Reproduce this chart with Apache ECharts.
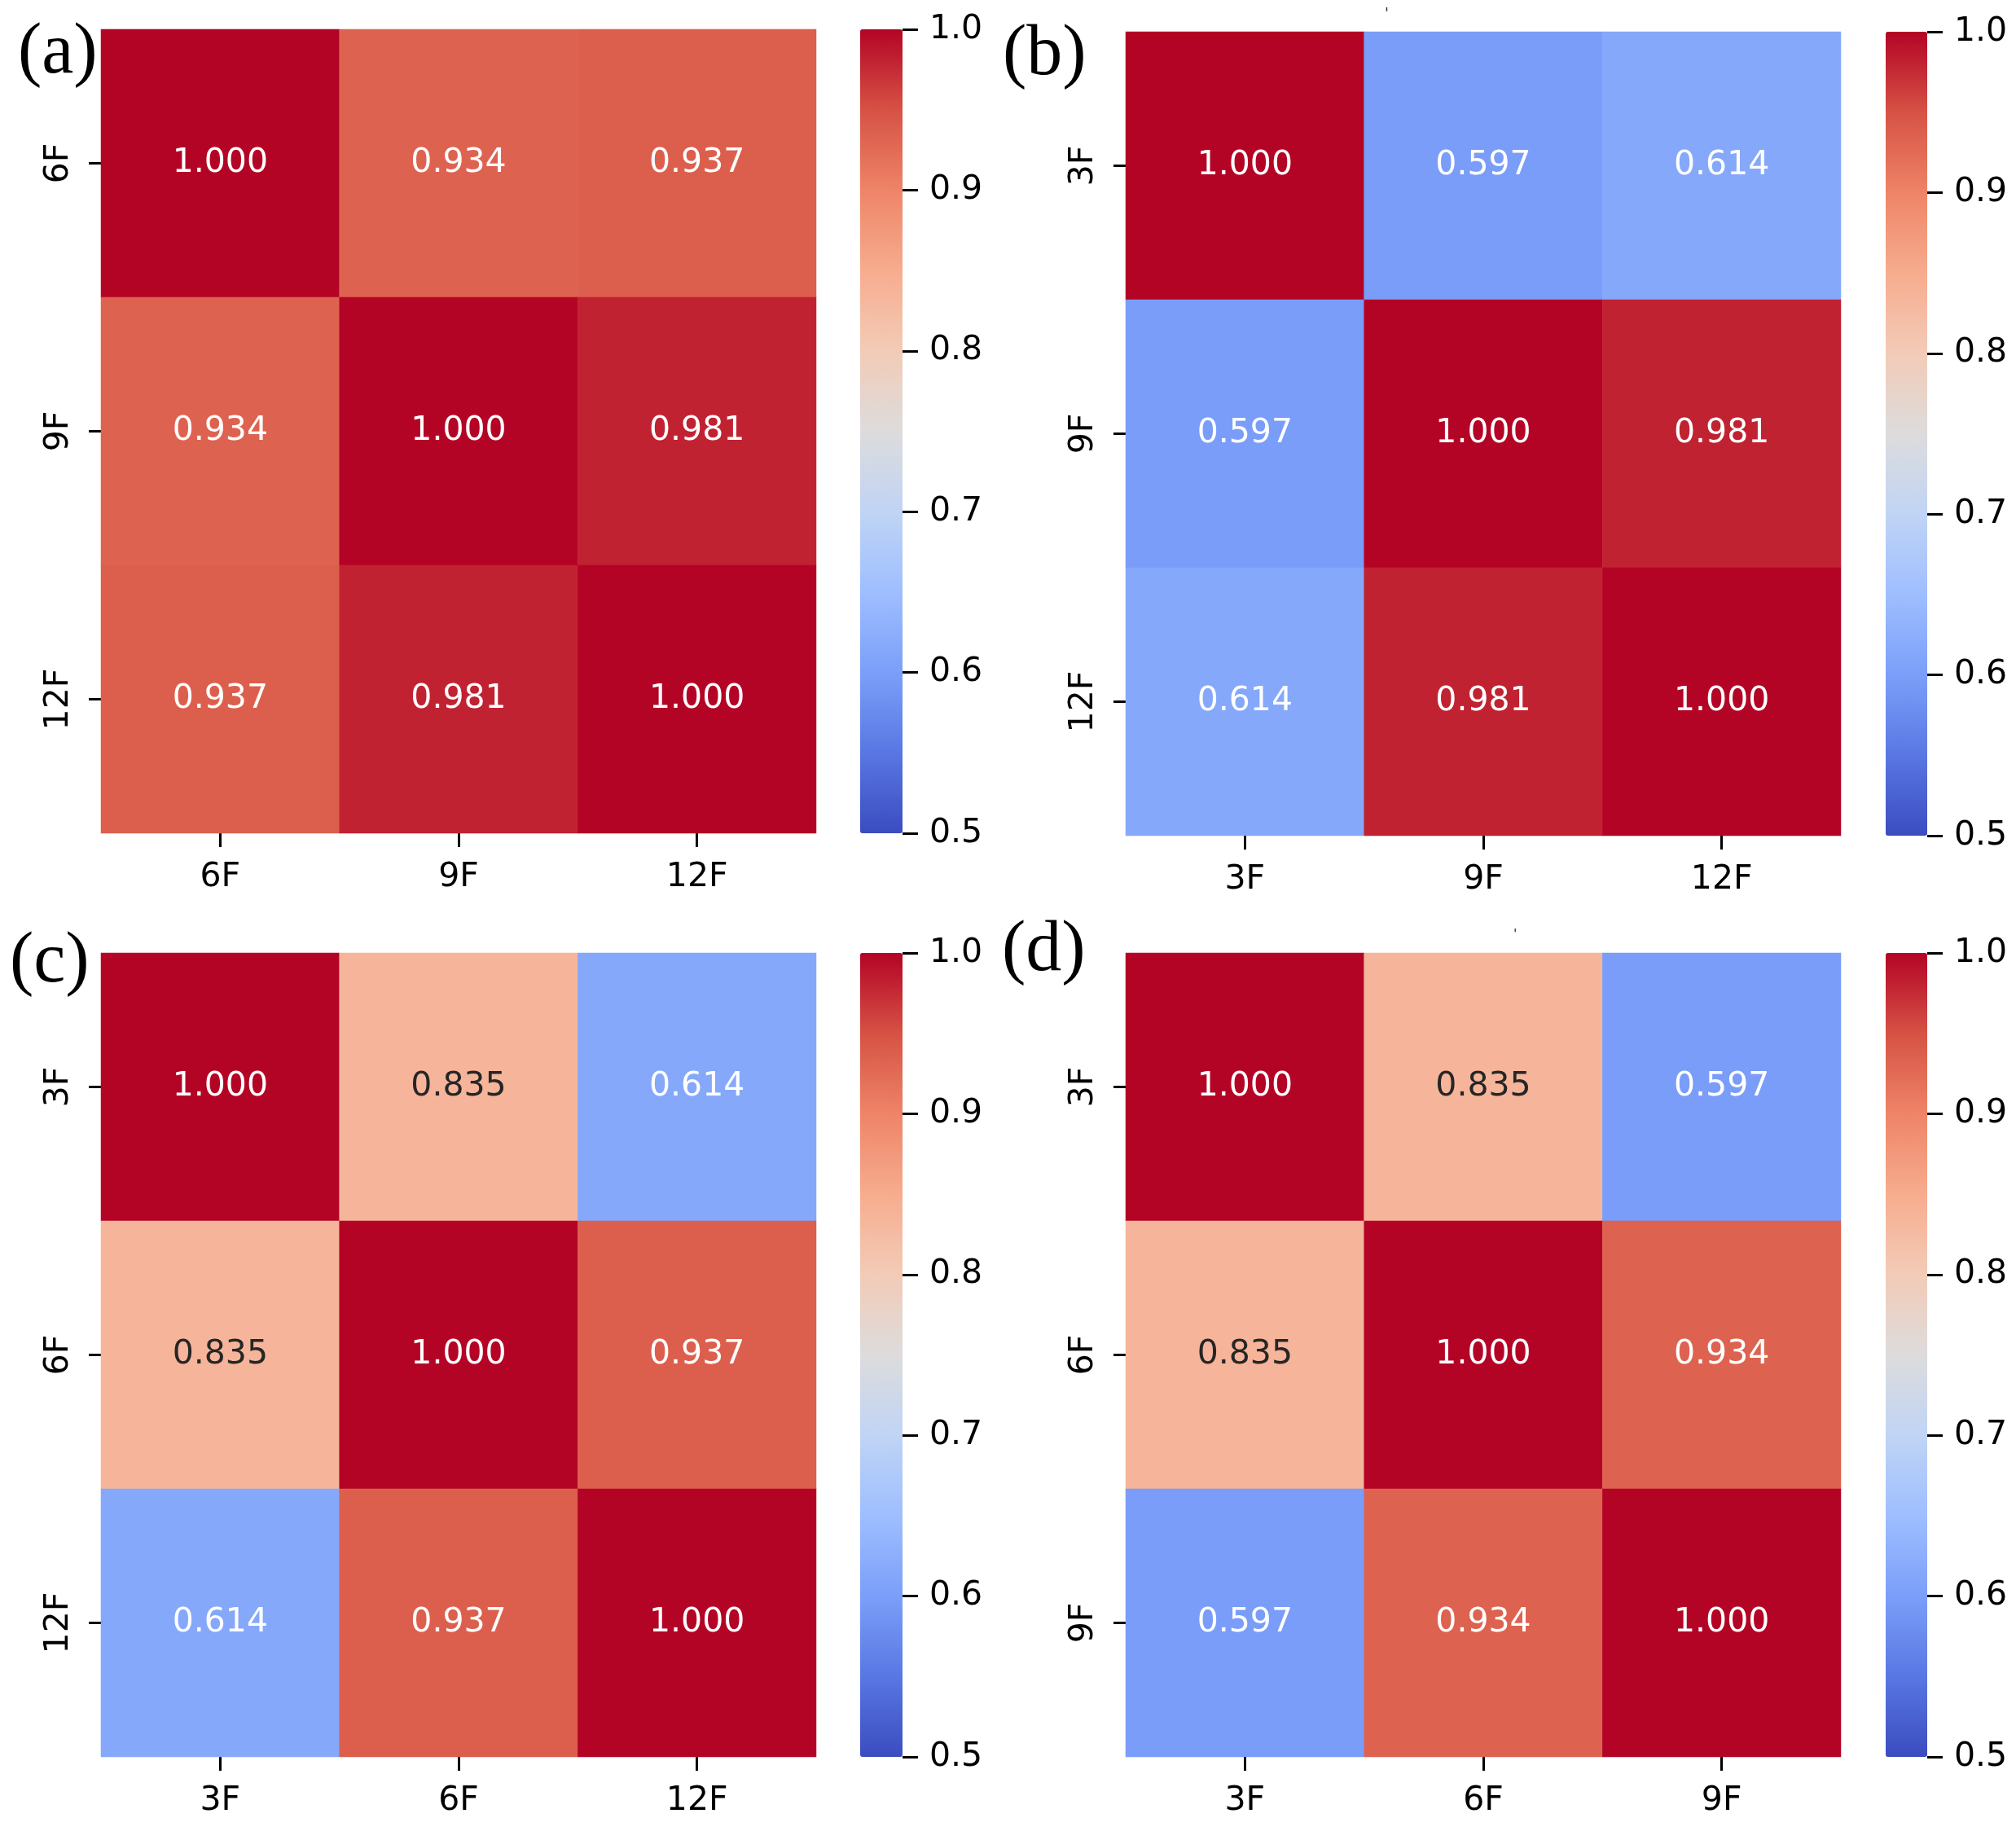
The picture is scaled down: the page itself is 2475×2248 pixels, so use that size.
<!DOCTYPE html>
<html>
<head>
<meta charset="utf-8">
<script src="https://cdn.jsdelivr.net/npm/echarts@6/dist/echarts.min.js"></script>
<style>
html,body{margin:0;padding:0;background:#fff;}
#chart{width:2475px;height:2248px;}
</style>
</head>
<body>
<div id="chart"></div>
<script>
// ---- data ----
const panelLetters = ['(a)', '(b)', '(c)', '(d)'];
const catsA = ['6F', '9F', '12F'];
const catsB = ['3F', '9F', '12F'];
const catsC = ['3F', '6F', '12F'];
const catsD = ['3F', '6F', '9F'];
const valsA = [[1.000, 0.934, 0.937], [0.934, 1.000, 0.981], [0.937, 0.981, 1.000]];
const valsB = [[1.000, 0.597, 0.614], [0.597, 1.000, 0.981], [0.614, 0.981, 1.000]];
const valsC = [[1.000, 0.835, 0.614], [0.835, 1.000, 0.937], [0.614, 0.937, 1.000]];
const valsD = [[1.000, 0.835, 0.597], [0.835, 1.000, 0.934], [0.597, 0.934, 1.000]];
const colorbarTicks = [0.5, 0.6, 0.7, 0.8, 0.9, 1.0];
const vMin = 0.5, vMax = 1.0;

// ---- styling ----
const COOLWARM = ['#3b4cc0','#5977e3','#7b9ff9','#9ebeff','#c0d4f5','#dddcdc','#f2cbb7','#f7ac8e','#ee8468','#d65244','#b40426'];
const FONT = 'DejaVu Sans';
const FS = 41;
const layout = [
  {left: 124, top: 36, w: 878, h: 987, cb: 1056, cbw: 52},
  {left: 1382, top: 39, w: 878, h: 987, cb: 2315, cbw: 51},
  {left: 124, top: 1170, w: 878, h: 987, cb: 1056, cbw: 52},
  {left: 1382, top: 1170, w: 878, h: 987, cb: 2315, cbw: 51}
];
const letterPos = [
  {x: 22, y: 66},
  {x: 1231, y: 68},
  {x: 12, y: 1182},
  {x: 1230, y: 1168}
];

function hexToRgb(h){return [parseInt(h.slice(1,3),16),parseInt(h.slice(3,5),16),parseInt(h.slice(5,7),16)];}
function colorAt(v){
  let t = Math.max(0, Math.min(1, (v - vMin) / (vMax - vMin))) * (COOLWARM.length - 1);
  let i = Math.min(Math.floor(t), COOLWARM.length - 2), f = t - i;
  const a = hexToRgb(COOLWARM[i]), b = hexToRgb(COOLWARM[i+1]);
  return a.map((c, k) => c + (b[k] - c) * f);
}
function luminance(rgb){
  const l = rgb.map(c => { c = c / 255; return c <= 0.03928 ? c / 12.92 : Math.pow((c + 0.055) / 1.055, 2.4); });
  return 0.2126 * l[0] + 0.7152 * l[1] + 0.0722 * l[2];
}

const panels = [
  {cats: catsA, vals: valsA},
  {cats: catsB, vals: valsB},
  {cats: catsC, vals: valsC},
  {cats: catsD, vals: valsD}
];

const grid = [], xAxis = [], yAxis = [], series = [], visualMap = [], graphic = [];
panels.forEach((p, i) => {
  const L = layout[i];
  grid.push({left: L.left, top: L.top, width: L.w, height: L.h, containLabel: false});
  xAxis.push({
    type: 'category', gridIndex: i, data: p.cats, position: 'bottom',
    axisLine: {show: false, onZero: false},
    axisTick: {show: true, alignWithLabel: true, length: 17, lineStyle: {color: '#000', width: 3}},
    axisLabel: {fontFamily: FONT, fontSize: FS, color: '#000', margin: 34},
    splitLine: {show: false}, splitArea: {show: false}
  });
  yAxis.push({
    type: 'category', gridIndex: i, data: p.cats, inverse: true,
    axisLine: {show: false, onZero: false},
    axisTick: {show: true, alignWithLabel: true, length: 15, lineStyle: {color: '#000', width: 3}},
    axisLabel: {fontFamily: FONT, fontSize: FS, color: '#000', rotate: 90, margin: 31},
    splitLine: {show: false}, splitArea: {show: false}
  });
  const data = [];
  p.vals.forEach((row, r) => row.forEach((v, c) => {
    const lum = luminance(colorAt(v));
    data.push({value: [c, r, v], label: {color: lum > 0.408 ? '#262626' : '#ffffff'}});
  }));
  series.push({
    type: 'heatmap', xAxisIndex: i, yAxisIndex: i, data: data,
    label: {show: true, fontFamily: FONT, fontSize: FS, padding: [5, 0, 0, 0], formatter: d => d.value[2].toFixed(3)},
    itemStyle: {borderWidth: 0},
    emphasis: {disabled: true}, silent: true
  });
  visualMap.push({
    type: 'continuous', min: vMin, max: vMax, seriesIndex: i, dimension: 2,
    left: L.cb, top: L.top, itemWidth: L.cbw, itemHeight: L.h, padding: 0,
    calculable: false, showLabel: false, text: null,
    inRange: {color: COOLWARM}, hoverLink: false
  });
});
// colorbar tick axes
panels.forEach((p, i) => {
  const L = layout[i];
  grid.push({left: L.cb, top: L.top, width: L.cbw, height: L.h, containLabel: false});
  xAxis.push({type: 'value', gridIndex: 4 + i, show: false, min: 0, max: 1});
  yAxis.push({
    type: 'value', gridIndex: 4 + i, position: 'right', min: colorbarTicks[0], max: colorbarTicks[colorbarTicks.length - 1], interval: 0.1,
    axisLine: {show: false, onZero: false},
    axisTick: {show: true, length: 19, lineStyle: {color: '#000', width: 3}},
    axisLabel: {fontFamily: FONT, fontSize: FS, color: '#000', margin: 33, padding: [10, 0, 0, 0], formatter: v => v.toFixed(1)},
    splitLine: {show: false}
  });
});
panelLetters.forEach((t, i) => {
  const P = letterPos[i];
  graphic.push({type: 'text', left: P.x, top: P.y - 44,
    style: {text: t, font: '88px "Liberation Serif"', fill: '#000'}});
});
// tiny stray marks present in the original figure
graphic.push({type: 'text', left: 1700, top: 8, style: {text: "'", font: '18px "DejaVu Sans"', fill: '#333'}});
graphic.push({type: 'text', left: 1858, top: 1140, style: {text: "'", font: '16px "DejaVu Sans"', fill: '#333'}});

const chart = echarts.init(document.getElementById('chart'), null, {renderer: 'canvas'});
chart.setOption({
  backgroundColor: '#ffffff',
  animation: false,
  grid, xAxis, yAxis, series, visualMap, graphic
});
</script>
</body>
</html>
